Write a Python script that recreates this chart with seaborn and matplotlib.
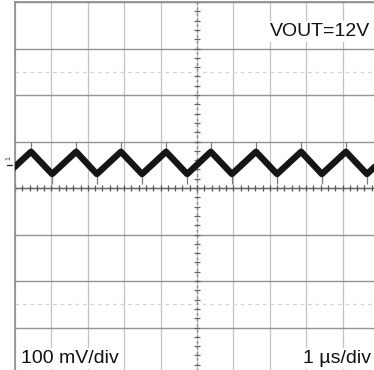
import numpy as np
import pandas as pd
import matplotlib
matplotlib.use("Agg")
import matplotlib.pyplot as plt
import seaborn as sns

# Output ripple waveform: switching-node triangle, time in µs, voltage in mV (AC coupled)
peak_t = [0.44, 1.68, 2.91, 4.15, 5.38, 6.62, 7.86, 9.09, 10.33]
peak_v = [78, 78, 78, 78, 78, 78, 78, 78, 78]
trough_t = [-0.22, 1.02, 2.25, 3.49, 4.73, 5.96, 7.20, 8.43, 9.67]
trough_v = [30, 30, 30, 30, 30, 30, 30, 30, 30]
# switching spikes riding on the ripple
spike_hi = 100
spike_lo = 8

volt_label = "100 mV/div"
time_label = "1 µs/div"
title_label = "VOUT=12V"

sns.set_style("white")
plt.rcParams["font.family"] = ["Liberation Sans", "DejaVu Sans"]

# vertices of the ripple trace, alternating trough / peak
verts = sorted(list(zip(trough_t, trough_v)) + list(zip(peak_t, peak_v)))
trace = pd.DataFrame(verts, columns=["t", "v"])

W, H = 374, 370
fig = plt.figure(figsize=(W / 100, H / 100), dpi=100)
# scope graticule: 10 x 8 divisions, partly beyond the right/bottom image edge
ax = fig.add_axes([15 / W, (H - 374) / H, 364 / W, 372 / H])
ax.set_xlim(0, 10)
ax.set_ylim(-400, 400)

ax.set_xticks(range(0, 11))
ax.set_yticks(range(-400, 401, 100))
ax.tick_params(length=0, labelbottom=False, labelleft=False)
ax.xaxis.grid(True, color="#c2c2c2", lw=0.9)
ax.yaxis.grid(True, color="#939393", lw=1.0)
ax.set_axisbelow(True)
for side in ["left", "top"]:
    ax.spines[side].set_color("#8c8c8c")
    ax.spines[side].set_linewidth(1.2)
for side in ["right", "bottom"]:
    ax.spines[side].set_visible(False)

# faint dashed reference levels
for lvl in (250, -250):
    ax.axhline(lvl, color="#d4d4d4", lw=0.9, ls=(0, (3, 3)), zorder=1)

# center axes with minor division ticks
ax.axhline(0, color="#6e6e6e", lw=1.0, zorder=2)
ax.axvline(5, color="#8a8a8a", lw=1.0, ls=(0, (2, 2)), zorder=2)
minor_x = np.arange(0, 10.01, 0.2)
minor_y = np.arange(-400, 400.1, 20)
ax.plot(minor_x, np.zeros_like(minor_x), ls="none", marker="|", ms=5,
        mew=0.9, color="#555555", zorder=2)
ax.plot(np.full_like(minor_y, 5.0), minor_y, ls="none", marker="_", ms=5,
        mew=0.9, color="#666666", zorder=2)

# switching spikes
ax.vlines(peak_t, peak_v, spike_hi, color="#7a7a7a", lw=0.9, zorder=3)
ax.vlines(trough_t, spike_lo, trough_v, color="#7a7a7a", lw=0.9, zorder=3)

# ripple trace
sns.lineplot(data=trace, x="t", y="v", sort=False, color="#151515",
             lw=4.6, ax=ax, zorder=5)
ax.set_xlabel("")
ax.set_ylabel("")

# channel marker
fig.text(9 / W, 1 - 158 / H, "1", rotation=90, fontsize=5, color="#333333",
         ha="center", va="center")
fig.add_artist(plt.Line2D([7 / W, 12 / W], [1 - 165 / H, 1 - 165 / H],
                          color="#333333", lw=1))

box = dict(facecolor="white", edgecolor="none", pad=1.5)
fig.text(370 / W, 1 - 36 / H, title_label, fontsize=14, ha="right",
         va="baseline", color="#111111", bbox=box)
fig.text(21 / W, 1 - 363 / H, volt_label, fontsize=14, ha="left",
         va="baseline", color="#111111", bbox=box)
fig.text(371 / W, 1 - 363 / H, time_label, fontsize=14, ha="right",
         va="baseline", color="#111111", bbox=box)

fig.savefig("out.png", dpi=100)
